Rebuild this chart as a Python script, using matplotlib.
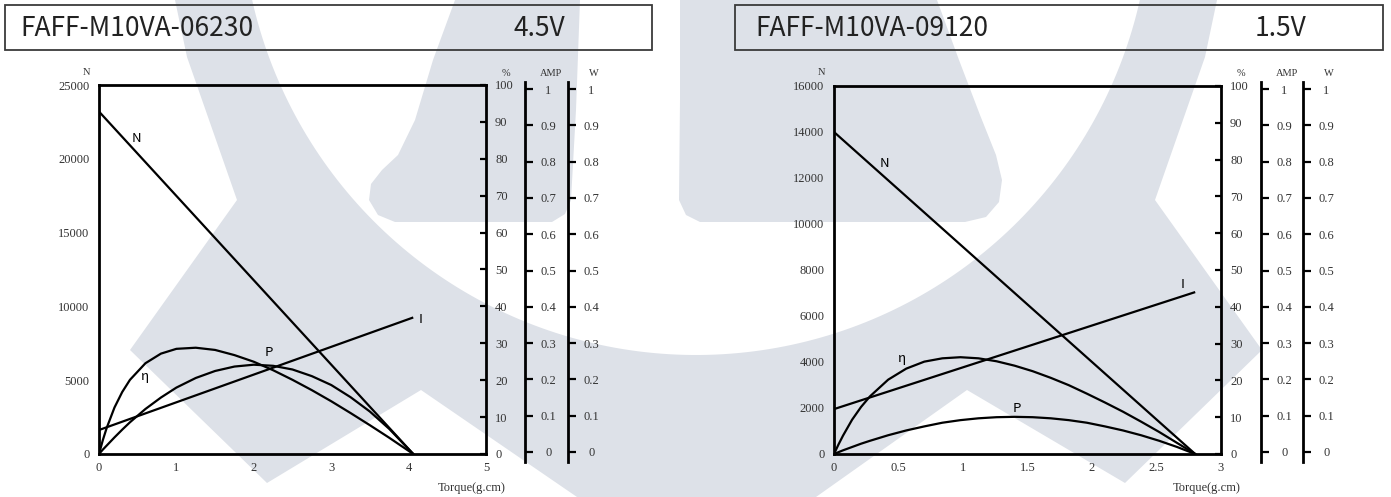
import numpy as np
import matplotlib
matplotlib.use("Agg")
import matplotlib.pyplot as plt
from matplotlib.patches import Polygon, Rectangle

# ---------------- data ----------------
# Left chart: FAFF-M10VA-06230 @ 4.5V
left_model = "FAFF-M10VA-06230"
left_voltage = "4.5V"
left_xticks = [0, 1, 2, 3, 4, 5]
left_xticklabels = ["0", "1", "2", "3", "4", "5"]
left_yticks = [0, 5000, 10000, 15000, 20000, 25000]
left_yticklabels = ["0", "5000", "10000", "15000", "20000", "25000"]
left_speed_torque = [0, 4.06]
left_speed = [23200, 0]
left_current_torque = [0, 4.06]
left_current = [0.065, 0.37]
left_torque = [0, 0.05, 0.1, 0.2, 0.3, 0.4, 0.6, 0.8, 1.0, 1.25, 1.5, 1.75,
               2.0, 2.25, 2.5, 2.75, 3.0, 3.25, 3.5, 3.75, 4.06]
left_eff = [0, 3.8, 7.1, 12.6, 16.8, 20.1, 24.6, 27.2, 28.5, 28.8, 28.2, 26.8,
            25.0, 22.7, 20.1, 17.3, 14.3, 11.1, 7.8, 4.4, 0]
left_power = [0, 0.012, 0.023, 0.045, 0.066, 0.086, 0.122, 0.153, 0.180, 0.206,
              0.225, 0.237, 0.242, 0.239, 0.229, 0.211, 0.187, 0.154, 0.115, 0.068, 0]
# label positions (torque, speed units)
left_label_pos = {"N": (0.48, 21400), "I": (4.15, 9080), "P": (2.2, 6910), "η": (0.59, 5220)}

# Right chart: FAFF-M10VA-09120 @ 1.5V
right_model = "FAFF-M10VA-09120"
right_voltage = "1.5V"
right_xticks = [0, 0.5, 1, 1.5, 2, 2.5, 3]
right_xticklabels = ["0", "0.5", "1", "1.5", "2", "2.5", "3"]
right_yticks = [0, 2000, 4000, 6000, 8000, 10000, 12000, 14000, 16000]
right_yticklabels = ["0", "2000", "4000", "6000", "8000", "10000", "12000", "14000", "16000"]
right_speed_torque = [0, 2.8]
right_speed = [14000, 0]
right_current_torque = [0, 2.8]
right_current = [0.122, 0.44]
right_torque = [0, 0.035, 0.07, 0.14, 0.21, 0.28, 0.42, 0.56, 0.7, 0.84, 0.98, 1.12,
                1.26, 1.4, 1.54, 1.68, 1.82, 1.96, 2.1, 2.24, 2.38, 2.52, 2.66, 2.8]
right_eff = [0, 2.6, 5.0, 9.3, 12.8, 15.7, 20.2, 23.2, 25.1, 26.0, 26.3, 26.0,
             25.2, 24.0, 22.5, 20.7, 18.7, 16.4, 14.0, 11.5, 8.8, 6.0, 3.0, 0]
right_power = [0, 0.005, 0.010, 0.019, 0.028, 0.036, 0.051, 0.064, 0.075, 0.085,
               0.092, 0.097, 0.100, 0.101, 0.100, 0.097, 0.092, 0.085, 0.075,
               0.064, 0.051, 0.036, 0.019, 0]
right_label_pos = {"N": (0.39, 12650), "I": (2.7, 7350), "P": (1.42, 2000), "η": (0.53, 4170)}

pct_ticks = list(range(0, 101, 10))
unit_ticks = [0, 0.1, 0.2, 0.3, 0.4, 0.5, 0.6, 0.7, 0.8, 0.9, 1]
unit_ticklabels = ["0", "0.1", "0.2", "0.3", "0.4", "0.5", "0.6", "0.7", "0.8", "0.9", "1"]

# ---------------- figure ----------------
W_PX, H_PX, DPI = 1391, 497, 100
plt.rcParams['font.family'] = ['Liberation Serif', 'DejaVu Serif']
SANS = ['Noto Sans CJK SC', 'DejaVu Sans']
TXT = '#333333'

fig = plt.figure(figsize=(W_PX / DPI, H_PX / DPI), dpi=DPI)
fig.patch.set_facecolor('white')


def fr(x0, y0, x1, y1):
    return [x0 / W_PX, 1 - y1 / H_PX, (x1 - x0) / W_PX, (y1 - y0) / H_PX]


def fpt(x, y):
    return x / W_PX, 1 - y / H_PX


# ---------------- watermark ----------------
wm = fig.add_axes([0, 0, 1, 1], zorder=0)
wm.set_xlim(0, W_PX)
wm.set_ylim(H_PX, 0)
wm.axis('off')
WMC = '#dde1e8'
cx, cy, R = 696, -100, 455
th0 = np.degrees(np.arcsin((0 - cy) / R))
theta = np.radians(np.linspace(th0, 180 - th0, 160))
arc = np.column_stack([cx + R * np.cos(theta), cy + R * np.sin(theta)])
outer = [(175, 0), (187, 57), (237, 200), (130, 350), (267, 483), (421, 390),
         (577, 497), (816, 497), (967, 390), (1125, 483), (1262, 350),
         (1155, 200), (1205, 57), (1217, 0)]
ring = np.vstack([np.array(outer, float), arc])
wm.add_patch(Polygon(ring, closed=True, fc=WMC, ec='none'))
left_arm = [(455, 0), (580, 0), (576, 110), (571, 200), (565, 214), (552, 222),
            (395, 222), (378, 215), (369, 200), (371, 184), (382, 170),
            (398, 155), (415, 120), (433, 60)]
right_arm = [(680, 0), (937, 0), (959, 60), (980, 115), (996, 155), (1002, 180),
             (999, 202), (986, 217), (965, 222), (700, 222), (686, 215),
             (679, 200), (680, 100)]
wm.add_patch(Polygon(left_arm, closed=True, fc=WMC, ec='none'))
wm.add_patch(Polygon(right_arm, closed=True, fc=WMC, ec='none'))


# ---------------- charts ----------------
def side_axis(xpx, title):
    a = fig.add_axes(fr(xpx, 82, xpx + 1, 462), zorder=3)
    a.patch.set_visible(False)
    lo = -(462 - 452) / 363.0
    hi = 1 + (89 - 82) / 363.0
    a.set_ylim(lo, hi)
    a.set_xlim(0, 1)
    for s in ['top', 'bottom', 'right']:
        a.spines[s].set_visible(False)
    a.spines['left'].set_linewidth(2.0)
    a.set_xticks([])
    a.set_yticks(unit_ticks)
    a.set_yticklabels(unit_ticklabels)
    a.tick_params(axis='y', left=True, right=False, labelleft=False, labelright=True,
                  direction='in', length=6, width=1.6, pad=16, labelsize=9,
                  labelcolor=TXT)
    for t in a.get_yticklabels():
        t.set_ha('center')
    fig.text(*fpt(xpx + 26, 73), title, ha='center', va='center', fontsize=7.5, color=TXT)


def chart(x0, x1, top, bottom, amp_x, w_x, xlim, xticks, xticklabels, ylim, yticks,
          yticklabels, torque, eff, power, sp_t, sp, cur_t, cur, lab_pos,
          box, model, volt, model_x, volt_x):
    # header box
    fig.add_artist(Rectangle(fpt(box[0], box[1]), (box[2] - box[0]) / W_PX,
                             (box[1] - box[3]) / H_PX, transform=fig.transFigure,
                             fill=False, ec='#3a3a3a', lw=1.3))
    fig.text(*fpt(model_x, 28), model, family=SANS, fontsize=19, color='#222222',
             ha='left', va='center')
    fig.text(*fpt(volt_x, 28), volt, family=SANS, fontsize=19, color='#222222',
             ha='left', va='center')

    ax = fig.add_axes(fr(x0, top, x1, bottom), zorder=2)
    ax.patch.set_visible(False)
    ax.set_xlim(*xlim)
    ax.set_ylim(*ylim)
    ax.set_xticks(xticks)
    ax.set_xticklabels(xticklabels)
    ax.set_yticks(yticks)
    ax.set_yticklabels(yticklabels)
    ax.tick_params(axis='both', length=0, labelsize=9, labelcolor=TXT)
    ax.tick_params(axis='y', pad=7)
    ax.tick_params(axis='x', pad=6)
    for s in ax.spines.values():
        s.set_linewidth(2.0)
        s.set_color('black')

    axp = ax.twinx()
    axp.patch.set_visible(False)
    axp.set_ylim(0, 100)
    axp.set_yticks(pct_ticks)
    axp.tick_params(axis='y', direction='in', length=4, width=1.6, pad=6.5,
                    labelsize=9, labelcolor=TXT)
    for s in axp.spines.values():
        s.set_visible(False)

    axu = ax.twinx()
    axu.patch.set_visible(False)
    axu.set_ylim(0, 1)
    axu.axis('off')

    lw = 1.6
    ax.plot(sp_t, sp, color='black', lw=lw, solid_capstyle='butt')
    axp.plot(torque, eff, color='black', lw=lw)
    axu.plot(torque, power, color='black', lw=lw)
    axu.plot(cur_t, cur, color='black', lw=lw, solid_capstyle='butt')

    for k, (tx, ty) in lab_pos.items():
        ax.text(tx, ty, k, family=SANS, fontsize=9.5, ha='center', va='center',
                color='black')

    fig.text(*fpt(x0 - 12, 72), "N", ha='center', va='center', fontsize=7.5, color=TXT)
    fig.text(*fpt(x1 + 20, 73), "%", ha='center', va='center', fontsize=7.5, color=TXT)
    fig.text(*fpt(x1 + 20, 488), "Torque(g.cm)", ha='right', va='center',
             fontsize=9, color=TXT)
    side_axis(amp_x, "AMP")
    side_axis(w_x, "W")
    return ax


chart(99, 486, 85, 454, 525, 568, (0, 5), left_xticks, left_xticklabels,
      (0, 25000), left_yticks, left_yticklabels, left_torque, left_eff, left_power,
      left_speed_torque, left_speed, left_current_torque, left_current,
      left_label_pos, (5, 5, 652, 50), left_model, left_voltage, 20, 513)

chart(834, 1221, 86, 454, 1261, 1303, (0, 3), right_xticks, right_xticklabels,
      (0, 16000), right_yticks, right_yticklabels, right_torque, right_eff,
      right_power, right_speed_torque, right_speed, right_current_torque,
      right_current, right_label_pos, (735, 5, 1383, 50), right_model,
      right_voltage, 755, 1255)

fig.savefig("out.png", dpi=DPI)
